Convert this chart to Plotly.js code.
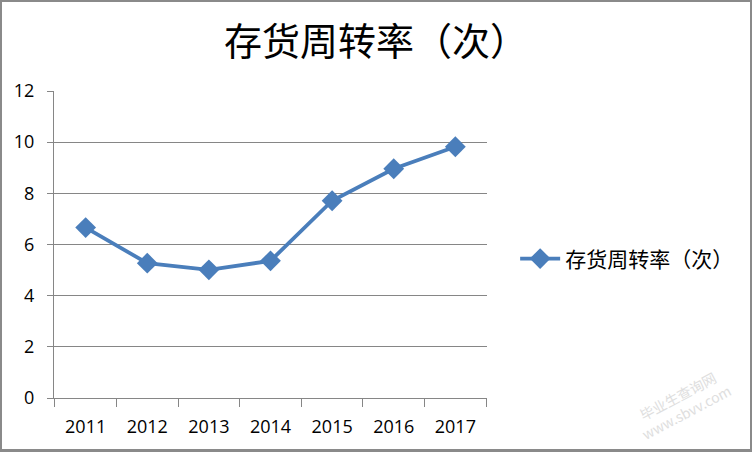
<!DOCTYPE html>
<html><head><meta charset="utf-8">
<script src="https://cdn.plot.ly/plotly-3.0.1.min.js"></script>
<style>html,body{margin:0;padding:0;background:#fff}#wrap{position:relative;width:752px;height:452px}
#frame{position:absolute;left:0;top:0;width:752px;height:452px;box-sizing:border-box;border:2px solid #8a8a8a;border-bottom-width:3px;pointer-events:none}</style>
</head><body><div id="wrap"><div id="chart"></div><div id="frame"></div></div>
<script>
const years = ['2011','2012','2013','2014','2015','2016','2017'];
const turnover = [6.66, 5.27, 5.01, 5.36, 7.71, 8.96, 9.82];
const seriesName = '存货周转率（次）';
const chartTitle = '存货周转率（次）';
const yTicks = [0, 2, 4, 6, 8, 10, 12];

const trace = {
  x: years, y: turnover, type: 'scatter', mode: 'lines+markers', name: seriesName,
  line: {color: '#4a7ebb', width: 3.8},
  marker: {symbol: 'diamond', size: 16, color: '#4a7ebb', line: {width: 0}}
};
const layout = {
  width: 752, height: 452,
  margin: {l: 54, r: 265, t: 91, b: 54},
  paper_bgcolor: '#fff', plot_bgcolor: '#fff',
  title: {text: chartTitle, xref: 'container', x: 0.5, xanchor: 'center', yref: 'container', y: 0.907, yanchor: 'middle',
    font: {family: 'Noto Sans CJK SC, sans-serif', size: 38, color: '#000'}},
  showlegend: true,
  legend: {x: 1.065, xanchor: 'left', y: 0.453, yanchor: 'middle', bgcolor: 'rgba(0,0,0,0)',
    font: {family: 'Noto Sans CJK SC, sans-serif', size: 21, color: '#000'}, itemwidth: 40},
  xaxis: {type: 'category', tickson: 'boundaries', ticks: 'outside', ticklen: 8, tickcolor: '#868686',
    showline: true, linecolor: '#868686', linewidth: 1, showgrid: false, zeroline: false,
    ticklabelstandoff: 12,
    tickfont: {family: 'Open Sans, sans-serif', size: 18, color: '#000'}, fixedrange: true},
  yaxis: {range: [0, 12], tickvals: yTicks, ticktext: yTicks.map(String), ticks: 'outside', ticklen: 6,
    tickcolor: '#868686', showline: true, linecolor: '#868686', linewidth: 1,
    showgrid: true, gridcolor: '#868686', gridwidth: 1, zeroline: false,
    ticklabelstandoff: 9,
    tickfont: {family: 'Open Sans, sans-serif', size: 18, color: '#000'}, fixedrange: true},
  annotations: [{text: '毕业生查询网<br>www.sbvv.com', xref: 'paper', yref: 'paper', x: 1.45, y: -0.02,
    xanchor: 'center', yanchor: 'middle',
    showarrow: false, textangle: -28, font: {family: 'Noto Sans CJK SC', size: 14, color: '#dedede'}}]
};
Plotly.newPlot('chart', [trace], layout, {displayModeBar: false, staticPlot: true});
</script></body></html>
